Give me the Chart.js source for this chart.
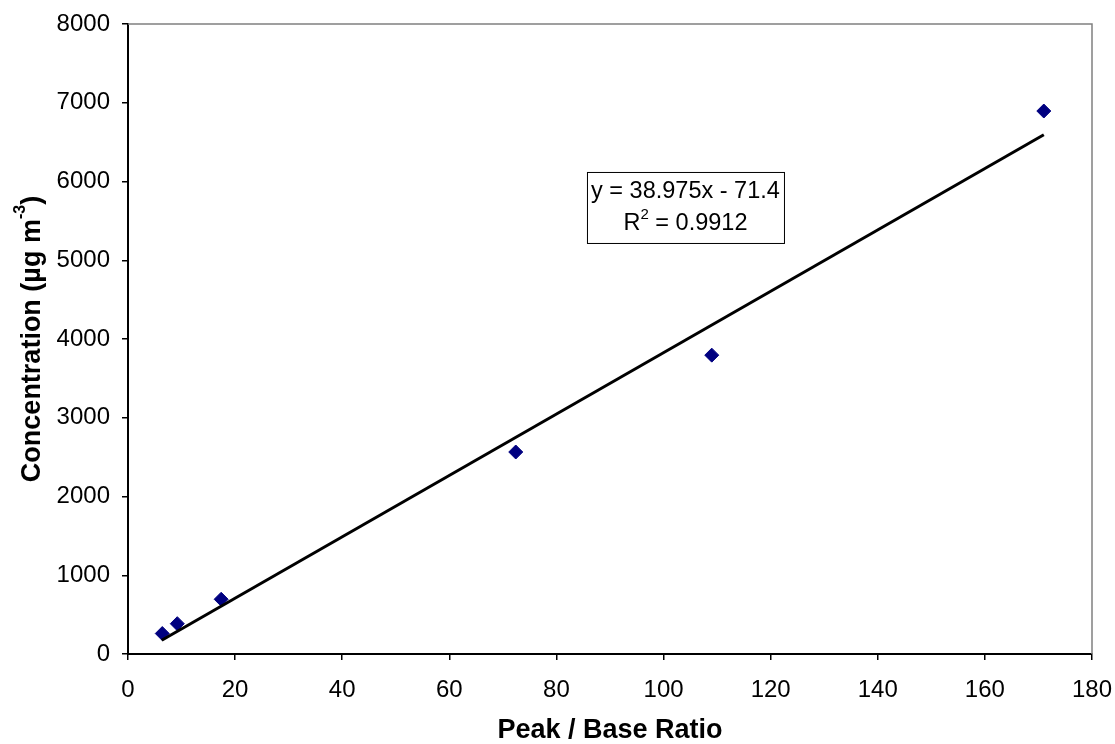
<!DOCTYPE html>
<html>
<head>
<meta charset="utf-8">
<script src="https://cdn.jsdelivr.net/npm/chart.js@4"></script>
<style>
  body { margin: 0; background: #fff; }
  canvas { display: block; }
</style>
</head>
<body>
<canvas id="myChart" width="1115" height="744"></canvas>
<script>
// valeurs
const ratio = [6.4, 9.2, 17.4, 72.4, 109, 171];
const concentration = [260, 385, 695, 2565, 3795, 6895];

// droite de tendance (extrémités)
const trendX = [6.3, 171];
const trendY = [174, 6593];

const equationText = "y = 38.975x - 71.4";
const r2Text = " = 0.9912";
const yTitle = "Concentration (µg m";

const font = "'Liberation Sans', Arial, sans-serif";

const framePlugin = {
  id: "frame",
  afterDraw(chart) {
    const { ctx, chartArea: a, scales } = chart;
    ctx.save();

    // cadre gris en haut et à droite
    ctx.strokeStyle = "#808080";
    ctx.lineWidth = 1.5;
    ctx.beginPath();
    ctx.moveTo(a.left, a.top);
    ctx.lineTo(a.right, a.top);
    ctx.lineTo(a.right, a.bottom);
    ctx.stroke();

    // boîte de l'équation
    const bx = scales.x.getPixelForValue(85.7);
    const by = scales.y.getPixelForValue(6121);
    const bw = 197, bh = 71;
    ctx.fillStyle = "#fff";
    ctx.fillRect(bx, by, bw, bh);
    ctx.strokeStyle = "#000";
    ctx.lineWidth = 1;
    ctx.strokeRect(bx + 0.5, by + 0.5, bw, bh);

    ctx.fillStyle = "#000";
    ctx.textBaseline = "middle";
    ctx.textAlign = "center";
    ctx.font = "23.5px " + font;
    const cx = bx + bw / 2;
    ctx.fillText(equationText, cx, by + 20);

    // R² avec exposant
    ctx.textAlign = "left";
    const wR = ctx.measureText("R").width;
    const wRest = ctx.measureText(r2Text).width;
    ctx.font = "15px " + font;
    const w2 = ctx.measureText("2").width;
    let x0 = cx - (wR + w2 + wRest) / 2;
    const ly = by + 52;
    ctx.font = "23.5px " + font;
    ctx.fillText("R", x0, ly);
    ctx.font = "15px " + font;
    ctx.fillText("2", x0 + wR, ly - 9);
    ctx.font = "23.5px " + font;
    ctx.fillText(r2Text, x0 + wR + w2, ly);

    // titre de l'axe Y avec exposant
    ctx.translate(33, (a.top + a.bottom) / 2);
    ctx.rotate(-Math.PI / 2);
    ctx.font = "bold 27px " + font;
    const wMain = ctx.measureText(yTitle).width;
    const wParen = ctx.measureText(")").width;
    ctx.font = "bold 16px " + font;
    const wSup = ctx.measureText("-3").width;
    let tx = -(wMain + wSup + wParen) / 2;
    ctx.font = "bold 27px " + font;
    ctx.fillText(yTitle, tx, 0);
    ctx.font = "bold 16px " + font;
    ctx.fillText("-3", tx + wMain, -12);
    ctx.font = "bold 27px " + font;
    ctx.fillText(")", tx + wMain + wSup, 0);

    ctx.restore();
  }
};

const ctx = document.getElementById("myChart");

new Chart(ctx, {
  type: "scatter",
  data: {
    datasets: [
      {
        label: "Mesures",
        data: ratio.map((v, i) => ({ x: v, y: concentration[i] })),
        pointStyle: "rectRot",
        pointRadius: 7,
        backgroundColor: "#000080",
        borderColor: "#000080",
        borderWidth: 1,
        order: 2
      },
      {
        label: "Tendance",
        type: "line",
        data: trendX.map((v, i) => ({ x: v, y: trendY[i] })),
        borderColor: "#000",
        borderWidth: 3,
        pointRadius: 0,
        fill: false,
        order: 1
      }
    ]
  },
  options: {
    responsive: false,
    animation: false,
    layout: { padding: { top: 24, right: 23, left: 0, bottom: 0 } },
    plugins: {
      legend: { display: false },
      tooltip: { enabled: false }
    },
    scales: {
      x: {
        type: "linear",
        min: 0,
        max: 180,
        ticks: {
          stepSize: 20,
          color: "#000",
          padding: 16,
          font: { family: font, size: 24 }
        },
        grid: {
          drawOnChartArea: false,
          drawTicks: true,
          tickLength: 6,
          color: "#000",
          lineWidth: 1.5
        },
        border: { color: "#000", width: 2 },
        title: {
          display: true,
          text: "Peak / Base Ratio",
          color: "#000",
          padding: { top: 0, bottom: -3 },
          font: { family: font, size: 27, weight: "bold" }
        },
        afterFit(scale) {
          scale.height = 90;
          scale.paddingLeft = 0;
          scale.paddingRight = 0;
        }
      },
      y: {
        min: 0,
        max: 8000,
        ticks: {
          stepSize: 1000,
          color: "#000",
          padding: 12,
          font: { family: font, size: 24 },
          callback: (v) => String(v)
        },
        grid: {
          drawOnChartArea: false,
          drawTicks: true,
          tickLength: 6,
          color: "#000",
          lineWidth: 1.5
        },
        border: { color: "#000", width: 2 },
        afterFit(scale) {
          scale.width = 128;
          scale.paddingTop = 0;
          scale.paddingBottom = 0;
        }
      }
    }
  },
  plugins: [framePlugin]
});
</script>
</body>
</html>
